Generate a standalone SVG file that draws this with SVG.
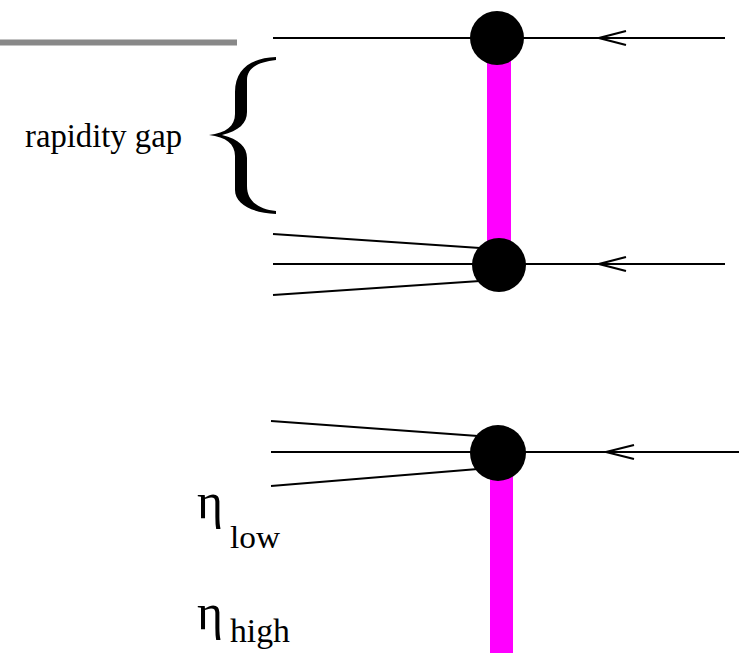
<svg xmlns="http://www.w3.org/2000/svg" width="739" height="653" viewBox="0 0 739 653">
<style>
.ln{stroke:#000;stroke-width:2;fill:none}
.arr{stroke:#000;stroke-width:2.2;fill:none}
.bar{fill:#ff00ff}
.vx{fill:#000}
.tx{font-family:"Liberation Serif","Times New Roman",serif;fill:#000}
.eta{font-family:"Liberation Serif","DejaVu Serif",serif;fill:#000}
</style>
<rect width="739" height="653" fill="#fff"/>
<g id="pomeron-bars">
<rect class="bar" x="487" y="55" width="24" height="195"/>
<rect class="bar" x="490" y="470" width="23" height="183"/>
</g>
<g id="connectors">
<line x1="0" y1="42.5" x2="237" y2="42.5" stroke="#888" stroke-width="6"/>
<line class="ln" x1="273" y1="38" x2="725" y2="38"/>
<line class="ln" x1="273" y1="264" x2="725" y2="264"/>
<line class="ln" x1="273" y1="234" x2="480" y2="248"/>
<line class="ln" x1="273" y1="295" x2="480" y2="281"/>
<line class="ln" x1="271" y1="452" x2="739" y2="452"/>
<line class="ln" x1="271" y1="421" x2="478" y2="436"/>
<line class="ln" x1="271" y1="486" x2="478" y2="469"/>
<path class="arr" d="M626,31 L599,38 L626,45"/>
<path class="arr" d="M626,257 L599,264 L626,271"/>
<path class="arr" d="M634,445 L606,452 L634,459"/>
</g>
<g id="vertex-top"><circle class="vx" cx="497" cy="38" r="27"/></g>
<g id="vertex-mid"><circle class="vx" cx="499" cy="265" r="27"/></g>
<g id="vertex-bottom"><circle class="vx" cx="498" cy="453" r="28"/></g>
<g id="gap-brace">
<path fill="#000" d="M276,57 C252,58 235,68 235,92 L235,114 C235,126 226,133 209,135 C226,137 235,144 235,156 L235,190 C235,204 252,213 276,214 L276,211 C258,209 247,201 247,186 L247,158 C247,147 239,139 222,135 C239,131 247,123 247,112 L247,80 C247,68 258,62 276,60 Z"/>
<text class="tx" x="25" y="147" font-size="34" textLength="157" lengthAdjust="spacingAndGlyphs">rapidity gap</text>
</g>
<g id="eta-labels">
<text class="eta" x="197" y="518" font-size="50" textLength="26" lengthAdjust="spacingAndGlyphs">η</text>
<text class="tx" x="230" y="548" font-size="32" textLength="50" lengthAdjust="spacingAndGlyphs">low</text>
<text class="eta" x="197" y="629" font-size="50" textLength="26" lengthAdjust="spacingAndGlyphs">η</text>
<text class="tx" x="230" y="642" font-size="33" textLength="60" lengthAdjust="spacingAndGlyphs">high</text>
</g>
</svg>
